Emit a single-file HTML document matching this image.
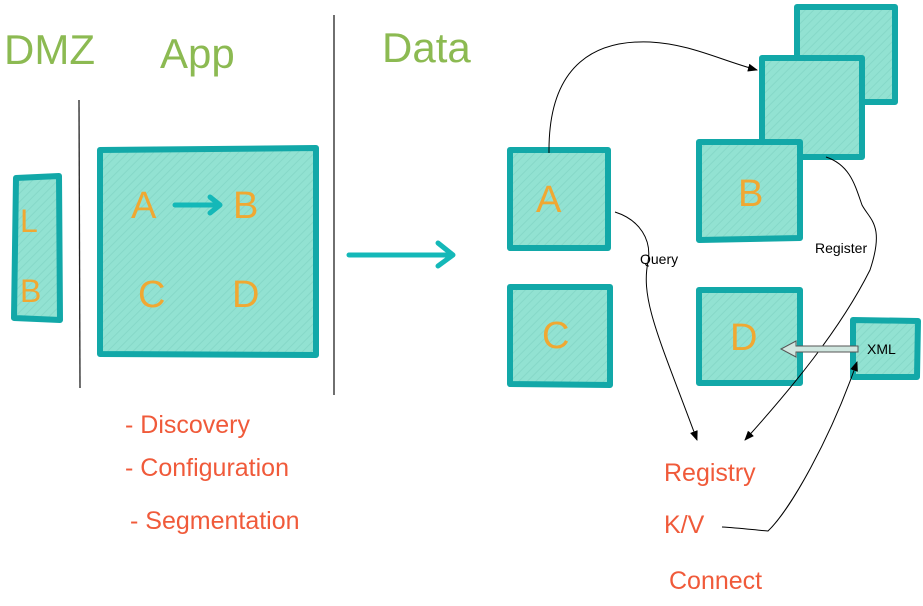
<!DOCTYPE html>
<html><head><meta charset="utf-8"><style>
html,body{margin:0;padding:0;background:#fff;}
svg{display:block;}
.hand{font-family:"Liberation Sans",sans-serif;}
</style></head><body>
<svg width="923" height="606" viewBox="0 0 923 606" xmlns="http://www.w3.org/2000/svg">
<defs>
<pattern id="h" patternUnits="userSpaceOnUse" width="6" height="6" patternTransform="rotate(45)">
<rect width="6" height="6" fill="#92e2d2"/><line x1="0" y1="0" x2="0" y2="6" stroke="#86d8c8" stroke-width="2"/>
</pattern>
<marker id="ar" markerWidth="10" markerHeight="10" refX="9" refY="5" orient="auto" markerUnits="userSpaceOnUse"><path d="M0,1 L10,5 L0,9 Z" fill="#000"/></marker>
</defs>
<g fill="none" stroke="#222" stroke-width="1.3">
<line x1="79" y1="100" x2="80" y2="388"/>
<line x1="334" y1="15" x2="334" y2="395"/>
</g>
<g class="hand" fill="#8cba52" font-size="42">
<text x="4" y="64">DMZ</text>
<text x="160" y="68">App</text>
<text x="382" y="62">Data</text>
</g>
<g fill="url(#h)" stroke="#12a8a8" stroke-width="6" stroke-linejoin="round">
<polygon points="16,178 59,176 60,320 14,318"/>
<polygon points="100,150 316,148 316,355 100,354"/>
<polygon points="510,150 608,150 608,248 510,248"/>
<polygon points="510,287 610,287 610,385 510,384"/>
<polygon points="797,7 895,7 895,102 797,102"/>
<polygon points="762,58 862,58 862,157 762,157"/>
<polygon points="699,142 800,142 800,238 699,240"/>
<polygon points="699,290 800,290 800,383 699,383"/>
<polygon points="853,320 918,321 917,377 853,377"/>
</g>
<g class="hand" fill="#f0a832" font-size="38">
<text x="20" y="232" font-size="32">L</text>
<text x="20" y="302" font-size="32">B</text>
<text x="131" y="218">A</text>
<text x="233" y="218">B</text>
<text x="138" y="307">C</text>
<text x="232" y="307">D</text>
<text x="536" y="212">A</text>
<text x="738" y="206">B</text>
<text x="542" y="348">C</text>
<text x="730" y="350">D</text>
</g>
<g stroke="#14b8b8" stroke-width="5" fill="none" stroke-linecap="round" stroke-linejoin="round">
<line x1="175" y1="205" x2="218" y2="205"/><polyline points="210,197 220,205 210,213"/>
<line x1="349" y1="255" x2="452" y2="255"/><polyline points="438,243 453,255 438,266"/>
</g>
<g fill="none" stroke="#000" stroke-width="1">
<path d="M549,153 C548,60 600,40 650,42 C690,44 720,60 757,70" marker-end="url(#ar)"/>
<path d="M615,212 C640,220 652,240 648,262 C640,300 660,340 697,440" marker-end="url(#ar)"/>
<path d="M826,157 C850,165 855,185 862,205 C870,220 885,225 870,270 C840,330 790,390 745,440" marker-end="url(#ar)"/>
<path d="M722,527 C740,528 755,530 768,531 C790,510 830,440 857,362" marker-end="url(#ar)"/>
</g>
<path d="M858,346 L796,346 L796,341 L781,349 L796,357 L796,352 L858,352 Z" fill="#cfe6df" stroke="#555" stroke-width="1"/>
<g font-family="Liberation Sans,sans-serif" font-size="14" fill="#000">
<text x="640" y="264">Query</text>
<text x="815" y="253">Register</text>
<text x="867" y="354">XML</text>
</g>
<g class="hand" fill="#f05a3a" font-size="25">
<text x="125" y="433">- Discovery</text>
<text x="125" y="476">- Configuration</text>
<text x="130" y="529">- Segmentation</text>
<text x="664" y="481">Registry</text>
<text x="664" y="533">K/V</text>
<text x="669" y="589">Connect</text>
</g>
</svg>
</body></html>
